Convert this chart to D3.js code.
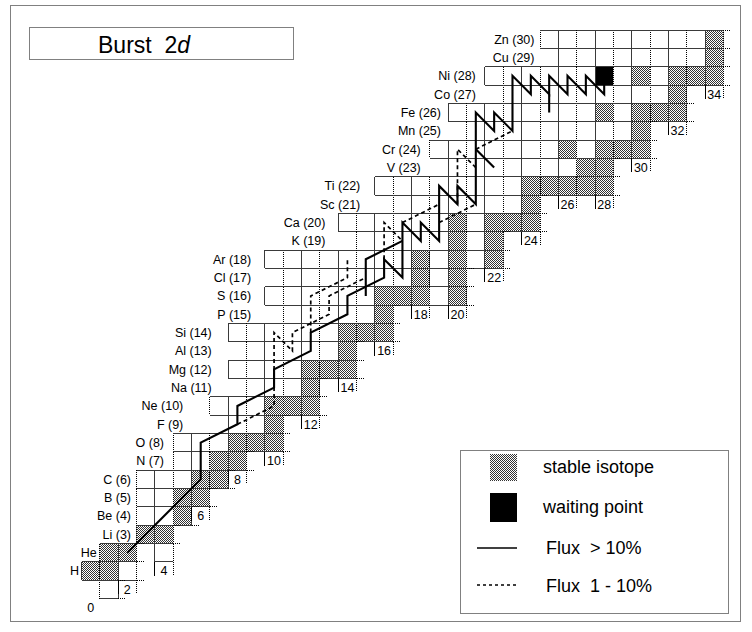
<!DOCTYPE html>
<html>
<head>
<meta charset="utf-8">
<script src="https://cdn.jsdelivr.net/npm/d3@7"></script>
<style>
body { margin: 0; background: #fff; }
text { font-family: "Liberation Sans", Arial, sans-serif; fill: #000; }
</style>
</head>
<body>
<svg id="chart"></svg>
<script>
// rows of the chart, indexed by Z
const elements = ["n", "H", "He", "Li", "Be", "B", "C", "N", "O", "F", "Ne", "Na", "Mg", "Al", "Si", "P",
    "S", "Cl", "Ar", "K", "Ca", "Sc", "Ti", "V", "Cr", "Mn", "Fe", "Co", "Ni", "Cu", "Zn"];
const rowStart = [1, 0, 1, 3, 3, 3, 3, 5, 5, 8, 7, 9, 8, 9, 8, 11, 10, 11, 10, 15, 14, 17, 16, 20, 19, 21, 20, 23, 22, 26, 25];
const rowEnd = [1, 2, 2, 4, 5, 6, 7, 8, 10, 10, 12, 12, 14, 14, 16, 16, 20, 20, 22, 22, 24, 24, 28, 28, 30, 30, 32, 32, 34, 34, 34];
const extraCells = [[2, 4]]; // [Z, N]  (He-6)
// where the element label ends, in N units
const labelEnd = [null, -0.14, 0.83, 2.7, 2.7, 2.7, 2.7, 4.5, 4.5, 5.55, 5.55, 7.1, 7.1, 7.1, 7.1, 9.25,
    9.25, 9.25, 9.25, 13.3, 13.3, 15.2, 15.2, 18.5, 18.5, 19.6, 19.6, 21.5, 21.5, 24.7, 24.7];

// stable isotopes [Z, N]
const stable = [[1, 0], [1, 1], [2, 1], [2, 2], [3, 3], [3, 4], [4, 5], [5, 5], [5, 6], [6, 6], [6, 7],
    [7, 7], [7, 8], [8, 8], [8, 9], [8, 10], [9, 10], [10, 10], [10, 11], [10, 12], [11, 12],
    [12, 12], [12, 13], [12, 14], [13, 14], [14, 14], [14, 15], [14, 16], [15, 16],
    [16, 16], [16, 17], [16, 18], [16, 20], [17, 18], [17, 20], [18, 18], [18, 20], [18, 22],
    [19, 20], [19, 22], [20, 20], [20, 22], [20, 23], [20, 24], [21, 24],
    [22, 24], [22, 25], [22, 26], [22, 27], [22, 28], [23, 27], [23, 28],
    [24, 26], [24, 28], [24, 29], [24, 30], [25, 30], [26, 28], [26, 30], [26, 31], [26, 32],
    [27, 32], [28, 30], [28, 32], [28, 33], [28, 34], [29, 34], [30, 34]];
const waiting = [[28, 28]];

// neutron number labels [N, Z of the label cell]
const nLabels = [[0, -1], [2, 0], [4, 1], [6, 4], [8, 6], [10, 7], [12, 9], [14, 11], [16, 13], [18, 15],
    [20, 15], [22, 17], [24, 19], [26, 21], [28, 21], [30, 23], [32, 25], [34, 27]];

// reaction flow, points are [N, Z]
const fluxStrong = [
    [[2, 2], [6, 6], [6, 8], [8, 9], [8, 10], [10, 11], [10, 12], [12, 13], [12, 14], [14, 15], [14, 16],
     [16, 17], [16, 18], [17, 17], [17, 20], [18, 19], [18, 20], [19, 19], [19, 22], [20, 21], [20, 22],
     [21, 21], [21, 26], [22, 25], [22, 26], [23, 25], [23, 28], [24, 27], [24, 28], [25, 27], [25, 28],
     [26, 27], [26, 28], [27, 27], [27, 28], [28, 27], [28, 28]],
    [[15, 16], [15, 18], [17, 19]],
    [[21, 24], [22, 23]],
    [[25, 26], [25, 27]]
];
const fluxWeak = [
    [[8, 9], [10, 10], [10, 14], [11, 13], [11, 14], [13, 15], [13, 16], [15, 17]],
    [[12, 14], [12, 16], [14, 17], [14, 18]],
    [[16, 18], [16, 20], [17, 19]],
    [[17, 20], [19, 21]],
    [[19, 20], [21, 21]],
    [[20, 21], [20, 24], [21, 23]],
    [[21, 24], [23, 25]]
];

const legendLabels = ["stable isotope", "waiting point", "Flux  > 10%", "Flux  1 - 10%"];

class NuclideChart {
    constructor(holder, w, h) {
        this.w = w;
        this.h = h;
        this.svg = d3.select(holder).attr("width", w).attr("height", h);
        // left edge of column N, top edge of row Z
        this.x = d3.scaleLinear().domain([0, 35]).range([81.5, 81.5 + 35 * 18.34]);
        this.y = d3.scaleLinear().domain([0, 30]).range([580.2, 580.2 - 30 * 18.34]);
        this.cw = this.x(1) - this.x(0);
        this.ch = this.y(0) - this.y(1);
        this.buildDefs();
        this.buildFrame();
        this.buildCells();
        this.buildLabels();
        this.buildFlux();
        this.buildLegend();
    }
    buildDefs() {
        let p = this.svg.append("defs").append("pattern")
            .attr("id", "stip").attr("width", 2).attr("height", 2)
            .attr("patternUnits", "userSpaceOnUse");
        p.append("rect").attr("width", 2).attr("height", 2).attr("fill", "#fff");
        p.append("rect").attr("width", 1).attr("height", 1).attr("fill", "#333");
        p.append("rect").attr("x", 1).attr("y", 1).attr("width", 1).attr("height", 1).attr("fill", "#333");
    }
    buildFrame() {
        this.svg.append("rect")
            .attr("x", 10.5).attr("y", 5.5).attr("width", 730).attr("height", 616)
            .attr("fill", "none").attr("stroke", "#000").attr("stroke-dasharray", "1,1");
        this.svg.append("rect")
            .attr("x", 29.5).attr("y", 27.5).attr("width", 264).attr("height", 32)
            .attr("fill", "none").attr("stroke", "#000").attr("stroke-dasharray", "1,1");
        let t = this.svg.append("text").attr("x", 98).attr("y", 53).attr("font-size", "23px")
            .style("white-space", "pre");
        t.append("tspan").text("Burst  2");
        t.append("tspan").attr("font-style", "italic").text("d");
    }
    buildCells() {
        let cells = [];
        elements.forEach((el, z) => {
            for (let n = rowStart[z]; n <= rowEnd[z]; n++) cells.push({ z: z, n: n });
        });
        extraCells.forEach(d => cells.push({ z: d[0], n: d[1] }));
        let isStable = (d) => stable.some(s => s[0] === d.z && s[1] === d.n);
        let isWait = (d) => waiting.some(s => s[0] === d.z && s[1] === d.n);

        let g = this.svg.append("g");
        g.selectAll("rect")
            .data(cells)
            .enter()
            .append("rect")
            .attr("x", d => this.x(d.n))
            .attr("y", d => this.y(d.z))
            .attr("width", this.cw)
            .attr("height", this.ch)
            .attr("fill", d => isWait(d) ? "#000" : (isStable(d) ? "url(#stip)" : "#fff"));

        // grid lines: rows solid, odd columns dotted
        let lines = [];
        cells.forEach(d => {
            let x0 = this.x(d.n), x1 = this.x(d.n + 1), yt = this.y(d.z), yb = this.y(d.z - 1);
            lines.push({ x1: x0, y1: yt, x2: x0, y2: yb, dot: d.n % 2 === 1 });
            lines.push({ x1: x1, y1: yt, x2: x1, y2: yb, dot: (d.n + 1) % 2 === 1 });
            lines.push({ x1: x0, y1: yt, x2: x1, y2: yt, dot: false });
            lines.push({ x1: x0, y1: yb, x2: x1, y2: yb, dot: false });
        });
        // short extension of the row lines past the last cell
        elements.forEach((el, z) => {
            let xe = this.x(rowEnd[z] + 1);
            lines.push({ x1: xe, y1: this.y(z), x2: xe + 7, y2: this.y(z), dot: true });
            lines.push({ x1: xe, y1: this.y(z - 1), x2: xe + 7, y2: this.y(z - 1), dot: true });
        });
        g.selectAll("line")
            .data(lines)
            .enter()
            .append("line")
            .attr("x1", d => d.x1).attr("y1", d => d.y1)
            .attr("x2", d => d.x2).attr("y2", d => d.y2)
            .attr("stroke", d => d.dot ? "#000" : "#3a3a3a")
            .attr("stroke-width", 1)
            .attr("shape-rendering", "crispEdges")
            .attr("stroke-dasharray", d => d.dot ? "1,1" : null);
    }
    buildLabels() {
        let g = this.svg.append("g");
        let names = elements.map((el, z) => ({ z: z, text: z < 3 ? el : el + " (" + z + ")" }))
            .filter(d => d.z > 0);
        g.selectAll("text.el")
            .data(names)
            .enter()
            .append("text")
            .attr("class", "el")
            .text(d => d.text)
            .attr("x", d => this.x(labelEnd[d.z]))
            .attr("y", d => this.y(d.z - 0.5))
            .attr("font-size", "12.5px")
            .attr("text-anchor", "end")
            .attr("dy", "0.35em");

        g.selectAll("text.nn")
            .data(nLabels)
            .enter()
            .append("text")
            .attr("class", "nn")
            .text(d => d[0])
            .attr("x", d => this.x(d[0] + 0.5))
            .attr("y", d => this.y(d[1] - 0.5))
            .attr("font-size", "12.5px")
            .attr("text-anchor", "middle")
            .attr("dy", "0.35em");

        let ticks = [];
        nLabels.filter(d => d[0] > 0).forEach(d => {
            ticks.push({ n: d[0], z: d[1], dot: false });
            ticks.push({ n: d[0] + 1, z: d[1], dot: true });
        });
        g.selectAll("line")
            .data(ticks)
            .enter()
            .append("line")
            .attr("x1", d => this.x(d.n)).attr("x2", d => this.x(d.n))
            .attr("y1", d => this.y(d.z))
            .attr("y2", d => this.y(d.z - 0.75))
            .attr("stroke", "#000")
            .attr("stroke-width", 1)
            .attr("shape-rendering", "crispEdges")
            .attr("stroke-dasharray", d => d.dot ? "1,1" : null);
    }
    buildFlux() {
        let line = d3.line()
            .x(d => this.x(d[0] + 0.5))
            .y(d => this.y(d[1] - 0.5));
        let g = this.svg.append("g").attr("fill", "none").attr("stroke", "#000");
        g.selectAll("path.weak")
            .data(fluxWeak)
            .enter()
            .append("path")
            .attr("class", "weak")
            .attr("d", line)
            .attr("stroke-width", 1.7)
            .attr("stroke-dasharray", "4,3");
        g.selectAll("path.strong")
            .data(fluxStrong)
            .enter()
            .append("path")
            .attr("class", "strong")
            .attr("d", line)
            .attr("stroke-width", 2.1)
            .attr("stroke-linejoin", "miter");
    }
    buildLegend() {
        let g = this.svg.append("g");
        g.append("rect")
            .attr("x", 460.5).attr("y", 450.5).attr("width", 268).attr("height", 163)
            .attr("fill", "#fff").attr("stroke", "#000").attr("stroke-dasharray", "1,1");
        g.append("rect").attr("x", 490).attr("y", 454).attr("width", 27).attr("height", 27)
            .attr("fill", "url(#stip)");
        g.append("rect").attr("x", 490).attr("y", 493).attr("width", 27).attr("height", 29)
            .attr("fill", "#000");
        g.append("line").attr("x1", 477).attr("x2", 517).attr("y1", 548).attr("y2", 548)
            .attr("stroke", "#000").attr("stroke-width", 1.3);
        g.append("line").attr("x1", 477).attr("x2", 517).attr("y1", 585).attr("y2", 585)
            .attr("stroke", "#000").attr("stroke-width", 1.5).attr("stroke-dasharray", "3,3");
        g.selectAll("text")
            .data(legendLabels)
            .enter()
            .append("text")
            .text(d => d)
            .attr("x", (d, i) => i < 2 ? 543 : 546)
            .attr("y", (d, i) => [467, 507, 548, 586][i])
            .attr("font-size", "18px")
            .attr("dy", "0.35em")
            .style("white-space", "pre");
    }
}

new NuclideChart("#chart", 752, 632);
</script>
</body>
</html>
